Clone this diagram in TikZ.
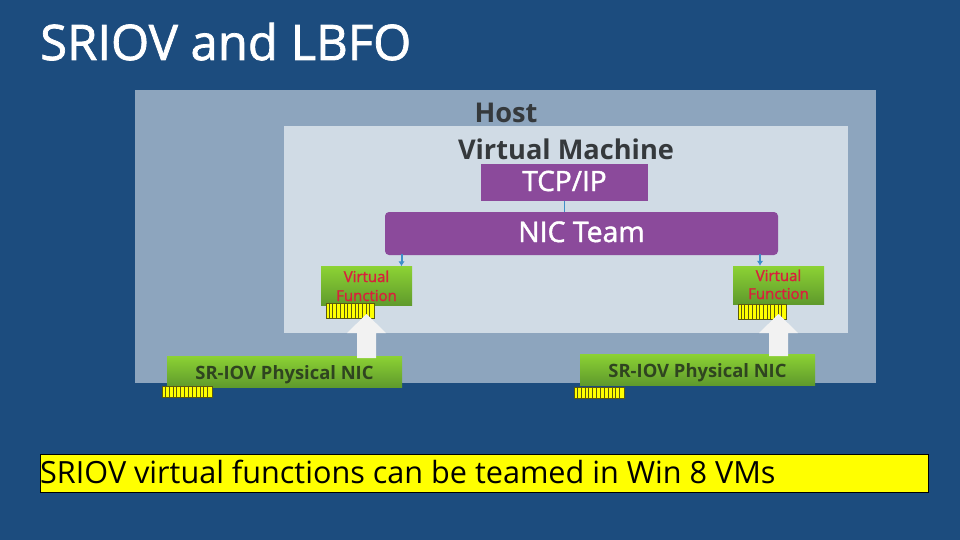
\documentclass[tikz,border=0pt]{standalone}
\usepackage{fontspec}
\setmainfont{Open Sans}
\newfontfamily\semib[FakeBold=1.5]{Open Sans}
\usetikzlibrary{arrows.meta}
\definecolor{bgblue}{HTML}{1C4C7E}
\definecolor{hostc}{HTML}{8DA5BE}
\definecolor{vmc}{HTML}{D0DBE5}
\definecolor{purp}{HTML}{8B4A9B}
\definecolor{gtop}{HTML}{8CD234}
\definecolor{gbot}{HTML}{5F9A2C}
\definecolor{conn}{HTML}{3E8FC8}
\definecolor{vfred}{HTML}{D8203C}
\definecolor{nictxt}{HTML}{2F4420}
\definecolor{dk}{HTML}{35393C}
\definecolor{yel}{HTML}{FFFF00}
\definecolor{combline}{HTML}{5A5A10}
\definecolor{arrowc}{HTML}{F2F2F2}
\tikzset{
  x=1pt,y=-1pt,
  lbl/.style={inner sep=0pt,anchor=base},
  greenbox/.style={top color=gtop,bottom color=gbot,draw=none,inner sep=0pt,minimum width=#1},
  purpbox/.style={fill=purp,draw=none,inner sep=0pt},
  link/.style={draw=conn,line width=2pt,-{Latex[length=5pt,width=6.5pt]}},
  uparrow/.style={fill=arrowc,draw=none},
  hdr/.style={lbl,font=\fontsize{27.2}{27.2}\selectfont\bfseries,text=dk},
  vftext/.style={lbl,font=\fontsize{15}{15}\selectfont\semib,text=vfred},
  nictext/.style={lbl,font=\fontsize{18.4}{18.4}\selectfont\bfseries,text=nictxt},
}
\newcommand{\comb}[5]{% name, x, y (left/top), width, height
  \node[fill=yel,draw=combline,line width=.8pt,minimum width=#4 pt,minimum height=#5 pt,inner sep=0pt,anchor=north west] (#1) at (#2,#3) {};
  \foreach \i in {1,...,12}{\draw[combline,line width=.8pt] ([xshift=\i*#4pt/13]#1.north west) -- ([xshift=\i*#4pt/13]#1.south west);}
}
\begin{document}
\begin{tikzpicture}
\useasboundingbox (0,0) rectangle (960,540);
\fill[bgblue] (0,0) rectangle (960,540);
\node[lbl,anchor=base west,font=\fontsize{49}{49}\selectfont\semib,text=white] (title) at (40,60) {SRIOV and LBFO};
\fill[hostc] (135,90) rectangle (876,383);
\fill[vmc] (284,126) rectangle (848,333);
\node[hdr] (host) at (506,123) {Host};
\node[hdr] (vm) at (566,160) {Virtual Machine};
\node[purpbox,minimum width=167pt,minimum height=37pt] (tcp) at (564.5,182.5) {};
\node[lbl,font=\fontsize{28}{28}\selectfont\semib,text=white] (tcpl) at (564.5,191) {TCP/IP};
\node[purpbox,rounded corners=4pt,minimum width=393pt,minimum height=43pt] (team) at (581.5,233.5) {};
\node[lbl,font=\fontsize{28.4}{28.4}\selectfont\semib,text=white] (teaml) at (581.5,242) {NIC Team};
\draw[draw=conn,line width=.8pt] (tcp.south) -- (tcp.south |- team.north);
\node[greenbox=91pt,minimum height=39pt] (vf1) at (366.5,286) {};
\node[greenbox=91pt,minimum height=38pt] (vf2) at (778.5,285) {};
\coordinate (t1) at (401.5,254);
\coordinate (t2) at (760,254);
\draw[link] (t1) -- (t1 |- vf1.north);
\draw[link] (t2) -- (t2 |- vf2.north);
\node[vftext] (vf1a) at (366.5,282) {Virtual};
\node[vftext] (vf1b) at (366.5,301) {Function};
\node[vftext] (vf2a) at (778.5,281) {Virtual};
\node[vftext] (vf2b) at (778.5,299) {Function};
\comb{c1}{325.5}{302.5}{48}{15.5}
\comb{c2}{737.5}{303.5}{48}{15.5}
\node[greenbox=235pt,minimum height=31pt] (nic1) at (284.5,371.5) {};
\node[greenbox=235pt,minimum height=31pt] (nic2) at (697.5,369.5) {};
\node[nictext] (nic1l) at (284.5,379) {SR-IOV Physical NIC};
\node[nictext] (nic2l) at (697.5,377) {SR-IOV Physical NIC};
\comb{c3}{161.5}{385.5}{50}{11.5}
\comb{c4}{573.5}{386.5}{50}{11.5}
\fill[uparrow] (357,358) -- (357,333) -- (347,333) -- (366.5,314) -- (386,333) -- (376,333) -- (376,358) -- cycle;
\fill[uparrow] (769,356) -- (769,333) -- (759,333) -- (778.5,314) -- (798,333) -- (788,333) -- (788,356) -- cycle;
\node[draw=black,line width=.7pt,fill=yel,minimum width=888pt,minimum height=38pt,inner sep=0pt,anchor=north west] (note) at (39.5,454) {};
\node[lbl,anchor=base west,font=\fontsize{30.6}{30.6}\selectfont,text=black] (notel) at (40,483) {SRIOV virtual functions can be teamed in Win 8 VMs};
\end{tikzpicture}
\end{document}
